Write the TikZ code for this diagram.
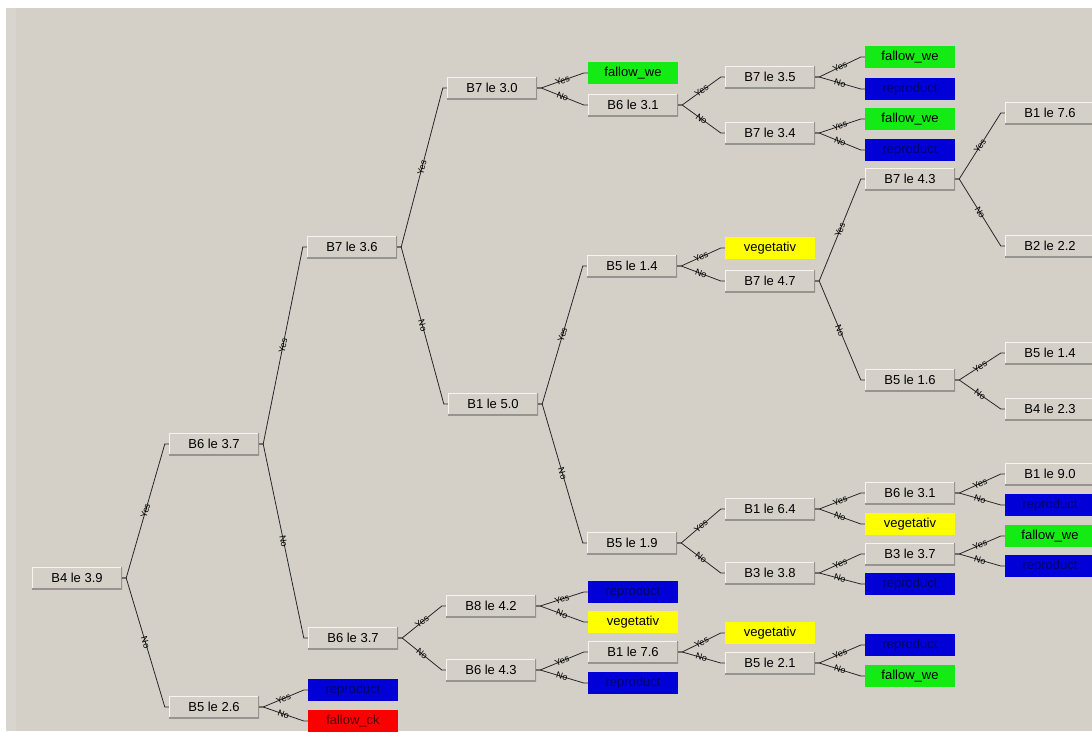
\documentclass[tikz,border=0pt]{standalone}
\usepackage{fontspec}
\setmainfont{Liberation Sans}
\usetikzlibrary{calc}
\definecolor{bgc}{RGB}{212,208,200}
\definecolor{bgl}{RGB}{216,213,206}
\definecolor{hil}{RGB}{245,244,240}
\definecolor{shd}{RGB}{150,148,142}
\definecolor{lgreen}{RGB}{20,235,20}
\definecolor{lblue}{RGB}{0,0,215}
\definecolor{lyellow}{RGB}{255,255,0}
\definecolor{lred}{RGB}{250,0,0}
\definecolor{navy}{RGB}{0,0,110}
\definecolor{edgec}{RGB}{40,40,40}
\newcommand\edg[3]{\draw[edgeln] (#1.east) -- ++(4,0) -- node[elab]{#3} ($(#2.west)+(-4,0)$) -- (#2.west);}
\begin{document}
\begin{tikzpicture}[x=1pt,y=-1pt,
  boxbase/.style={minimum width=90, minimum height=22, inner sep=0, font=\fontsize{13}{13}\selectfont},
  tb/.style={boxbase, fill=bgc,
    path picture={
      \draw[hil,line width=2pt] (path picture bounding box.south west) -- (path picture bounding box.north west) -- (path picture bounding box.north east);
      \draw[shd,line width=2pt] (path picture bounding box.north east) -- (path picture bounding box.south east) -- (path picture bounding box.south west);
    }},
  gleaf/.style={boxbase, fill=lgreen, text=black},
  bleaf/.style={boxbase, fill=lblue, text=navy},
  yleaf/.style={boxbase, fill=lyellow, text=black},
  rleaf/.style={boxbase, fill=lred, text={rgb,255:red,90;green,0;blue,0}},
  edgeln/.style={draw=edgec, line width=0.8pt},
  elab/.style={sloped, font=\fontsize{9}{9}\selectfont, inner sep=0.3pt, text=black}
]
\useasboundingbox (0,0) rectangle (1092,731);
\fill[white] (0,0) rectangle (1092,731);
\fill[bgc] (6,8) rectangle (1092,731);
\fill[bgl] (6,8) rectangle (16,731);

% column 0
\node[tb] (n0) at (77,578) {B4 le 3.9};
% column 1
\node[tb] (n1) at (214,444) {B6 le 3.7};
\node[tb] (n2) at (214,707) {B5 le 2.6};
% column 2
\node[tb] (n3) at (352,247) {B7 le 3.6};
\node[tb] (n4) at (353,638) {B6 le 3.7};
\node[bleaf] (l1) at (353,690) {reproduct};
\node[rleaf] (l2) at (353,721) {fallow\_ck};
% column 3
\node[tb] (n5) at (492,88) {B7 le 3.0};
\node[tb] (n6) at (493,404) {B1 le 5.0};
\node[tb] (n7) at (491,606) {B8 le 4.2};
\node[tb] (n8) at (491,670) {B6 le 4.3};
% column 4
\node[gleaf] (l3) at (633,73) {fallow\_we};
\node[tb] (n9) at (633,105) {B6 le 3.1};
\node[tb] (n10) at (632,266) {B5 le 1.4};
\node[tb] (n11) at (632,543) {B5 le 1.9};
\node[bleaf] (l4) at (633,592) {reproduct};
\node[yleaf] (l5) at (633,622) {vegetativ};
\node[tb] (n12) at (633,652) {B1 le 7.6};
\node[bleaf] (l6) at (633,683) {reproduct};
% column 5
\node[tb] (n13) at (770,77) {B7 le 3.5};
\node[tb] (n14) at (770,133) {B7 le 3.4};
\node[yleaf] (l7) at (770,248) {vegetativ};
\node[tb] (n15) at (770,281) {B7 le 4.7};
\node[tb] (n16) at (770,509) {B1 le 6.4};
\node[tb] (n17) at (770,573) {B3 le 3.8};
\node[yleaf] (l8) at (770,633) {vegetativ};
\node[tb] (n18) at (770,663) {B5 le 2.1};
% column 6
\node[gleaf] (l9) at (910,57) {fallow\_we};
\node[bleaf] (l10) at (910,89) {reproduct};
\node[gleaf] (l11) at (910,119) {fallow\_we};
\node[bleaf] (l12) at (910,150) {reproduct};
\node[tb] (n19) at (910,179) {B7 le 4.3};
\node[tb] (n20) at (910,380) {B5 le 1.6};
\node[tb] (n21) at (910,493) {B6 le 3.1};
\node[yleaf] (l13) at (910,524) {vegetativ};
\node[tb] (n22) at (910,554) {B3 le 3.7};
\node[bleaf] (l14) at (910,584) {reproduct};
\node[bleaf] (l15) at (910,645) {reproduct};
\node[gleaf] (l16) at (910,676) {fallow\_we};
% column 7
\node[tb] (n23) at (1050,113) {B1 le 7.6};
\node[tb] (n24) at (1050,246) {B2 le 2.2};
\node[tb] (n25) at (1050,353) {B5 le 1.4};
\node[tb] (n26) at (1050,409) {B4 le 2.3};
\node[tb] (n27) at (1050,474) {B1 le 9.0};
\node[bleaf] (l17) at (1050,505) {reproduct};
\node[gleaf] (l18) at (1050,536) {fallow\_we};
\node[bleaf] (l19) at (1050,566) {reproduct};

% edges
\edg{n0}{n1}{Yes}
\edg{n0}{n2}{No}
\edg{n1}{n3}{Yes}
\edg{n1}{n4}{No}
\edg{n2}{l1}{Yes}
\edg{n2}{l2}{No}
\edg{n3}{n5}{Yes}
\edg{n3}{n6}{No}
\edg{n4}{n7}{Yes}
\edg{n4}{n8}{No}
\edg{n5}{l3}{Yes}
\edg{n5}{n9}{No}
\edg{n9}{n13}{Yes}
\edg{n9}{n14}{No}
\edg{n13}{l9}{Yes}
\edg{n13}{l10}{No}
\edg{n14}{l11}{Yes}
\edg{n14}{l12}{No}
\edg{n6}{n10}{Yes}
\edg{n6}{n11}{No}
\edg{n10}{l7}{Yes}
\edg{n10}{n15}{No}
\edg{n15}{n19}{Yes}
\edg{n15}{n20}{No}
\edg{n19}{n23}{Yes}
\edg{n19}{n24}{No}
\edg{n20}{n25}{Yes}
\edg{n20}{n26}{No}
\edg{n11}{n16}{Yes}
\edg{n11}{n17}{No}
\edg{n16}{n21}{Yes}
\edg{n16}{l13}{No}
\edg{n21}{n27}{Yes}
\edg{n21}{l17}{No}
\edg{n17}{n22}{Yes}
\edg{n17}{l14}{No}
\edg{n22}{l18}{Yes}
\edg{n22}{l19}{No}
\edg{n7}{l4}{Yes}
\edg{n7}{l5}{No}
\edg{n8}{n12}{Yes}
\edg{n8}{l6}{No}
\edg{n12}{l8}{Yes}
\edg{n12}{n18}{No}
\edg{n18}{l15}{Yes}
\edg{n18}{l16}{No}
\end{tikzpicture}
\end{document}
